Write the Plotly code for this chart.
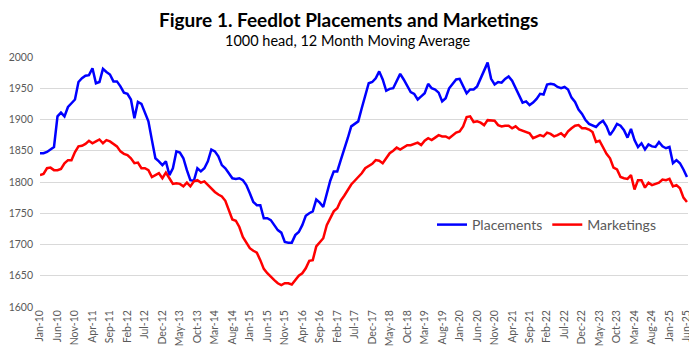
import pandas as pd
import plotly.graph_objects as go

months = [d.strftime("%b-%y") for d in pd.date_range("2010-01-01", "2025-06-01", freq="MS")]
tick_labels = months[::5]

placements = [
    1846, 1846, 1848, 1852, 1856, 1905, 1911, 1905, 1920, 1926,
    1932, 1960, 1966, 1970, 1971, 1982, 1958, 1960, 1981, 1976,
    1972, 1961, 1961, 1953, 1943, 1941, 1932, 1902, 1928, 1925,
    1910, 1897, 1867, 1838, 1833, 1827, 1833, 1811, 1822, 1849,
    1847, 1838, 1819, 1803, 1802, 1822, 1817, 1822, 1833, 1852,
    1849, 1841, 1827, 1822, 1814, 1806, 1805, 1806, 1803, 1795,
    1782, 1768, 1763, 1763, 1742, 1742, 1739, 1731, 1723, 1719,
    1704, 1703, 1703, 1715, 1720, 1731, 1746, 1750, 1753, 1772,
    1767, 1760, 1782, 1802, 1817, 1817, 1835, 1851, 1870, 1889,
    1893, 1897, 1918, 1940, 1958, 1960, 1966, 1977, 1964, 1946,
    1949, 1950, 1961, 1973, 1964, 1953, 1944, 1941, 1932, 1937,
    1942, 1957, 1950, 1948, 1943, 1929, 1934, 1950, 1958, 1964,
    1965, 1953, 1942, 1948, 1948, 1953, 1966, 1980, 1991, 1965,
    1956, 1960, 1959, 1965, 1969, 1962, 1950, 1940, 1927, 1929,
    1923, 1927, 1933, 1941, 1940, 1956, 1957, 1956, 1952, 1950,
    1952, 1948, 1935, 1928, 1916, 1909, 1899, 1893, 1891, 1888,
    1894, 1898, 1889, 1875, 1883, 1893, 1890, 1883, 1871, 1885,
    1867, 1856, 1862, 1852, 1860, 1857, 1856, 1864, 1857, 1854,
    1856, 1830, 1835, 1830, 1820, 1808,
]

marketings = [
    1811, 1813, 1822, 1823, 1819, 1819, 1821, 1830, 1835, 1835,
    1848, 1857, 1858, 1861, 1866, 1862, 1865, 1868, 1862, 1867,
    1865, 1861, 1857, 1849, 1845, 1843, 1838, 1830, 1831, 1822,
    1822, 1819, 1808, 1811, 1814, 1806, 1815, 1806, 1797, 1798,
    1797, 1793, 1799, 1793, 1801, 1803, 1799, 1801, 1795, 1790,
    1784, 1780, 1777, 1770, 1755, 1740, 1738, 1728, 1712, 1704,
    1694, 1690, 1687, 1675, 1661, 1654, 1648, 1643, 1638, 1635,
    1638, 1638, 1636, 1643, 1650, 1654, 1662, 1674, 1675, 1697,
    1703, 1710, 1731, 1742, 1753, 1758, 1770, 1778, 1788, 1796,
    1802, 1808, 1814, 1822, 1826, 1829, 1835, 1834, 1830, 1838,
    1846, 1850, 1855, 1852, 1856, 1859, 1859, 1861, 1863, 1859,
    1866, 1870, 1867, 1871, 1875, 1873, 1873, 1870, 1875, 1879,
    1881, 1889, 1904, 1905, 1896, 1897, 1895, 1891, 1899, 1898,
    1898, 1891, 1889, 1890, 1890, 1886, 1889, 1884, 1882, 1881,
    1878, 1870, 1873, 1875, 1873, 1879, 1877, 1873, 1875, 1878,
    1873, 1881, 1886, 1890, 1891, 1886, 1886, 1884, 1880, 1864,
    1866, 1855, 1845, 1838, 1823, 1820, 1808, 1806, 1805, 1811,
    1788, 1803, 1803, 1791, 1799, 1795, 1797, 1799, 1804, 1803,
    1805, 1793, 1795, 1790, 1775, 1768,
]

y_ticks = [1600, 1650, 1700, 1750, 1800, 1850, 1900, 1950, 2000]

FONT = "Lato"
GRAY = "#595959"

# the page body adds an 8 px offset; size the figure so the screen layout matches
OFF = 8
W, H = 697 - OFF, 357 - OFF
l, r, t, b = 40 - OFF, 9, 57 - OFF, 50
pw, ph = W - l - r, H - t - b


def px(xs):
    return (xs - OFF - l) / pw


def py(ys):
    return (H - b - (ys - OFF)) / ph


fig = go.Figure()
fig.add_trace(go.Scatter(x=months, y=placements, mode="lines", name="Placements",
                         line=dict(color="#0000ff", width=2.5)))
fig.add_trace(go.Scatter(x=months, y=marketings, mode="lines", name="Marketings",
                         line=dict(color="#ff0000", width=2.5)))

fig.update_layout(
    width=W, height=H,
    margin=dict(l=l, r=r, t=t, b=b, autoexpand=False),
    paper_bgcolor="white", plot_bgcolor="white",
    font=dict(family=FONT, color=GRAY),
    showlegend=True,
    legend=dict(orientation="h", x=px(432), y=py(225), xanchor="left", yanchor="middle",
                font=dict(size=14, color=GRAY, family=FONT), bgcolor="rgba(0,0,0,0)",
                itemwidth=30, tracegroupgap=0),
    xaxis=dict(type="category", categoryorder="array", categoryarray=months,
               tickmode="array", tickvals=tick_labels, ticktext=tick_labels,
               tickangle=-90, tickfont=dict(size=10.5, color=GRAY, family=FONT),
               range=[0, 185.3], showgrid=False, showline=False, ticks="",
               zeroline=False, automargin=False),
    yaxis=dict(range=[1600, 2000], tickvals=y_ticks, showgrid=True,
               gridcolor="#d9d9d9", gridwidth=1, zeroline=False, showline=False,
               tickfont=dict(size=10.5, color=GRAY, family=FONT), ticks="",
               ticklabelstandoff=6, automargin=False),
)

fig.add_annotation(text="<b>Figure 1. Feedlot Placements and Marketings</b>",
                   x=px(348), y=py(19.5), xref="paper", yref="paper", showarrow=False,
                   xanchor="center", yanchor="middle",
                   font=dict(size=19, color="black", family=FONT))
fig.add_annotation(text="1000 head, 12 Month Moving Average",
                   x=px(347), y=py(40.5), xref="paper", yref="paper", showarrow=False,
                   xanchor="center", yanchor="middle",
                   font=dict(size=14.5, color="black", family=FONT))

fig.write_html("out.html")
